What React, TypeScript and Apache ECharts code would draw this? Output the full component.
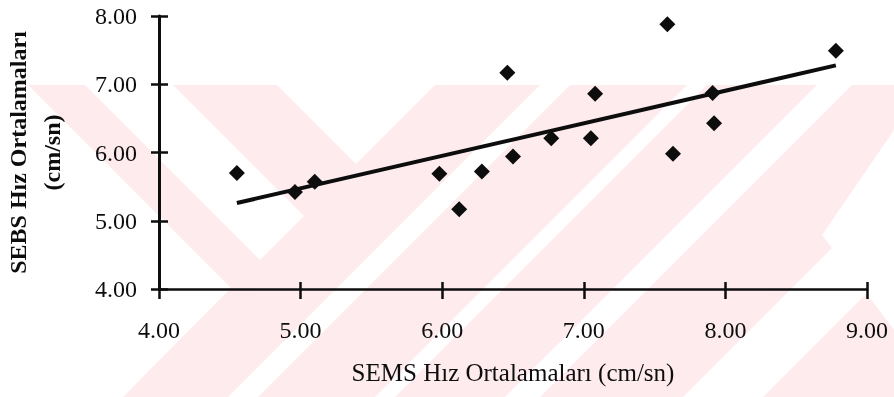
import { useEffect, useRef } from "react";
import * as echarts from "echarts";

// SEMS (x) vs SEBS (y) speed averages, cm/sn
const semsValues = [4.55, 4.96, 5.1, 5.98, 6.12, 6.28, 6.46, 6.5, 6.77, 7.05, 7.08, 7.59, 7.63, 7.91, 7.92, 8.78];
const sebsValues = [5.7, 5.42, 5.57, 5.69, 5.17, 5.72, 7.17, 5.94, 6.21, 6.21, 6.86, 7.88, 5.98, 6.87, 6.43, 7.49];

const xAxisTitle = "SEMS Hız Ortalamaları (cm/sn)";
const yAxisTitle = "SEBS Hız Ortalamaları\n(cm/sn)";
const xRange = [4, 9];
const yRange = [4, 8];

// Background watermark (decorative pink bands of the scanned page)
const WM_PINK = "#fdebee";
const wmWhite: number[][][] = [
  [[0, 85], [28, 85], [231, 288], [123, 397], [0, 397]],
  [[85, 85], [173, 85], [304, 216], [260, 260]],
  [[277, 85], [435, 85], [356, 164]],
  [[540, 85], [570, 85], [258, 397], [228, 397]],
  [[687, 85], [707, 85], [395, 397], [375, 397]],
  [[817, 85], [852, 85], [540, 397], [505, 397]],
  [[894, 186], [894, 266], [763, 397], [683, 397]],
  [[894, 130], [894, 330], [822, 235]],
];

function regression(xs: number[], ys: number[]) {
  const n = xs.length;
  const mx = xs.reduce((a, b) => a + b, 0) / n;
  const my = ys.reduce((a, b) => a + b, 0) / n;
  let sxy = 0;
  let sxx = 0;
  for (let i = 0; i < n; i++) {
    sxy += (xs[i] - mx) * (ys[i] - my);
    sxx += (xs[i] - mx) * (xs[i] - mx);
  }
  const b = sxy / sxx;
  return { a: my - b * mx, b };
}

export default function App() {
  const ref = useRef<HTMLDivElement>(null);
  useEffect(() => {
    if (!ref.current) return;
    const chart = echarts.init(ref.current, null, { renderer: "svg" });
    const ink = "#0d0d0d";
    const font = "'Liberation Serif', 'Times New Roman', serif";
    const points = semsValues.map((x, i) => [x, sebsValues[i]]);
    const { a, b } = regression(semsValues, sebsValues);
    const xmin = Math.min(...semsValues);
    const xmax = Math.max(...semsValues);
    const trend = [
      [xmin, a + b * xmin],
      [xmax, a + b * xmax],
    ];

    const graphics: any[] = [
      { type: "rect", silent: true, z: -10, shape: { x: 0, y: 85, width: 894, height: 312 }, style: { fill: WM_PINK } },
      ...wmWhite.map((pts) => ({
        type: "polygon",
        silent: true,
        z: -9,
        shape: { points: pts },
        style: { fill: "#ffffff" },
      })),
    ];

    const baseX = {
      type: "value",
      min: xRange[0],
      max: xRange[1],
      interval: 1,
      splitLine: { show: false },
    };
    const baseY = {
      type: "value",
      min: yRange[0],
      max: yRange[1],
      interval: 1,
      splitLine: { show: false },
    };

    chart.setOption({
      animation: false,
      backgroundColor: "transparent",
      graphic: { elements: graphics },
      grid: { left: 159, right: 27, top: 16, bottom: 108, containLabel: false, outerBoundsMode: "none" },
      xAxis: [
        {
          ...baseX,
          position: "bottom",
          axisLine: { show: true, lineStyle: { color: ink, width: 2.5 } },
          axisTick: { show: true, length: 10, lineStyle: { color: ink, width: 2.5 } },
          axisLabel: {
            formatter: (v: number) => v.toFixed(2),
            fontFamily: font,
            fontSize: 24,
            color: ink,
            margin: 29,
          },
          name: xAxisTitle,
          nameLocation: "middle",
          nameGap: 71,
          nameTextStyle: { fontFamily: font, fontSize: 25, color: ink },
        },
        {
          ...baseX,
          position: "bottom",
          axisLine: { show: false },
          axisTick: { show: true, inside: true, length: 7, lineStyle: { color: ink, width: 2.5 } },
          axisLabel: { show: false },
        },
      ],
      yAxis: [
        {
          ...baseY,
          position: "left",
          axisLine: { show: true, lineStyle: { color: ink, width: 3 } },
          axisTick: { show: true, length: 8, lineStyle: { color: ink, width: 2.5 } },
          axisLabel: {
            formatter: (v: number) => v.toFixed(2),
            fontFamily: font,
            fontSize: 24,
            color: ink,
            margin: 22,
          },
          name: yAxisTitle,
          nameLocation: "middle",
          nameRotate: 90,
          nameGap: 90,
          nameTextStyle: {
            fontFamily: font,
            fontSize: 24,
            fontWeight: "bold",
            lineHeight: 34,
            color: ink,
            align: "center",
          },
        },
        {
          ...baseY,
          position: "left",
          axisLine: { show: false },
          axisTick: { show: true, inside: true, length: 9, lineStyle: { color: ink, width: 2.5 } },
          axisLabel: { show: false },
        },
      ],
      series: [
        {
          type: "line",
          data: trend,
          symbol: "none",
          lineStyle: { color: ink, width: 4 },
          z: 3,
        },
        {
          type: "scatter",
          data: points,
          symbol: "diamond",
          symbolSize: 16,
          itemStyle: { color: ink, opacity: 1 },
          z: 4,
        },
      ],
    });
    return () => chart.dispose();
  }, []);
  return <div ref={ref} style={{ position: "fixed", left: 0, top: 0, width: 894, height: 397 }} />;
}
